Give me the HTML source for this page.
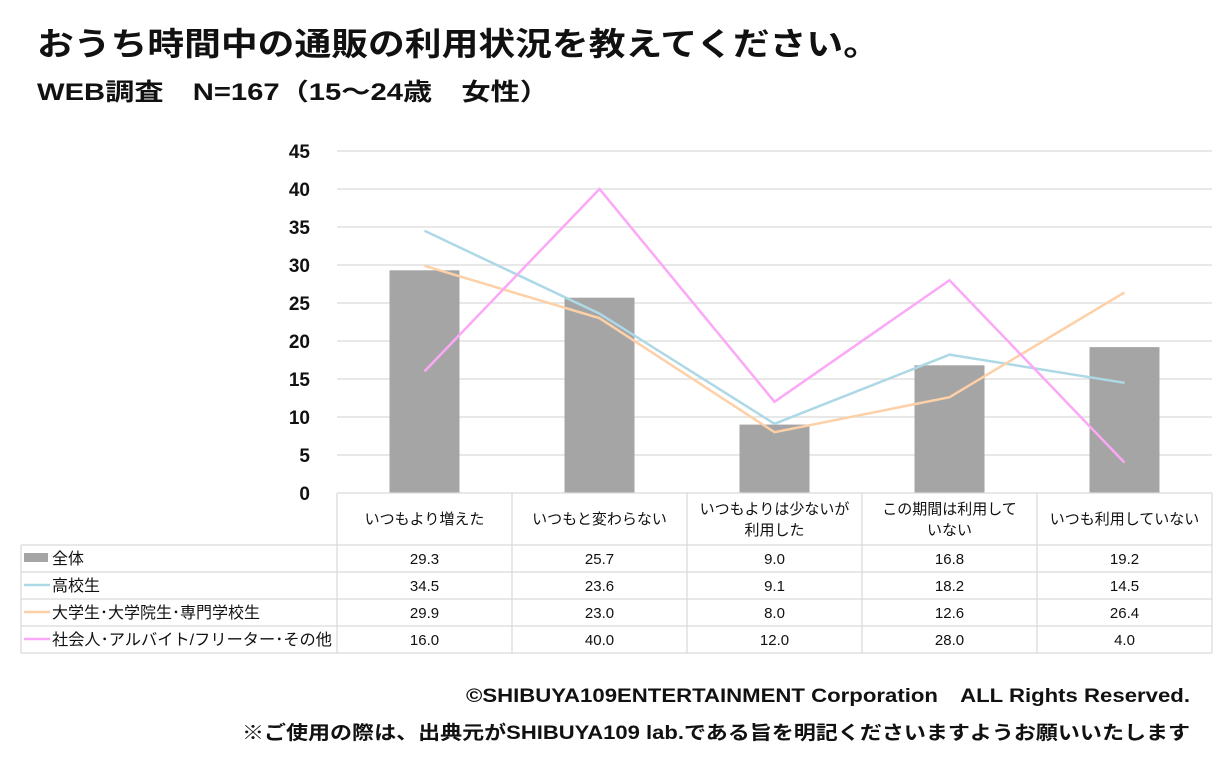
<!DOCTYPE html>
<html><head><meta charset="utf-8"><style>
body{margin:0;background:#fff;}
svg{display:block;font-family:"Liberation Sans","Noto Sans CJK JP",sans-serif;}
</style></head><body>
<svg width="1229" height="778" viewBox="0 0 1229 778">
<text x="37" y="55" font-size="32" font-weight="bold" fill="#111" textLength="843" lengthAdjust="spacingAndGlyphs">おうち時間中の通販の利用状況を教えてください。</text>
<text x="37" y="100" font-size="24" font-weight="bold" fill="#111" textLength="512" lengthAdjust="spacingAndGlyphs">WEB調査　N=167（15～24歳　女性）</text>
<g stroke="#e0e0e0" stroke-width="1.5">
<line x1="337" y1="151" x2="1212" y2="151"/><line x1="337" y1="189" x2="1212" y2="189"/>
<line x1="337" y1="227" x2="1212" y2="227"/><line x1="337" y1="265" x2="1212" y2="265"/>
<line x1="337" y1="303" x2="1212" y2="303"/><line x1="337" y1="341" x2="1212" y2="341"/>
<line x1="337" y1="379" x2="1212" y2="379"/><line x1="337" y1="417" x2="1212" y2="417"/>
<line x1="337" y1="455" x2="1212" y2="455"/>
</g>
<g font-size="19" font-weight="bold" fill="#111" text-anchor="end">
<text x="310" y="158">45</text><text x="310" y="196">40</text><text x="310" y="234">35</text>
<text x="310" y="272">30</text><text x="310" y="310">25</text><text x="310" y="348">20</text>
<text x="310" y="386">15</text><text x="310" y="424">10</text><text x="310" y="462">5</text>
<text x="310" y="500">0</text>
</g>
<g fill="#a5a5a5">
<rect x="389.5" y="270.3" width="70" height="222.7"/>
<rect x="564.5" y="297.7" width="70" height="195.3"/>
<rect x="739.5" y="424.6" width="70" height="68.4"/>
<rect x="914.5" y="365.3" width="70" height="127.7"/>
<rect x="1089.5" y="347.1" width="70" height="145.9"/>
</g>
<g fill="none" stroke-width="2.5">
<polyline stroke="#add8e6" points="424.5,230.8 599.5,313.6 774.5,423.8 949.5,354.7 1124.5,382.8"/>
<polyline stroke="#fdd0a8" points="424.5,265.8 599.5,318.2 774.5,432.2 949.5,397.2 1124.5,292.4"/>
<polyline stroke="#fba8f7" points="424.5,371.4 599.5,189 774.5,401.8 949.5,280.2 1124.5,462.6"/>
</g>
<g stroke="#d9d9d9" stroke-width="1.2" fill="none">
<line x1="337" y1="493" x2="1212" y2="493"/>
<line x1="21" y1="545" x2="1212" y2="545"/>
<line x1="21" y1="572" x2="1212" y2="572"/>
<line x1="21" y1="599" x2="1212" y2="599"/>
<line x1="21" y1="626" x2="1212" y2="626"/>
<line x1="21" y1="653" x2="1212" y2="653"/>
<line x1="21" y1="545" x2="21" y2="653"/>
<line x1="337" y1="493" x2="337" y2="653"/><line x1="512" y1="493" x2="512" y2="653"/>
<line x1="687" y1="493" x2="687" y2="653"/><line x1="862" y1="493" x2="862" y2="653"/>
<line x1="1037" y1="493" x2="1037" y2="653"/><line x1="1212" y1="493" x2="1212" y2="653"/>
</g>
<g font-size="15" fill="#111" text-anchor="middle">
<text x="424.5" y="524">いつもより増えた</text>
<text x="599.5" y="524">いつもと変わらない</text>
<text x="774.5" y="514">いつもよりは少ないが</text>
<text x="774.5" y="535">利用した</text>
<text x="949.5" y="514">この期間は利用して</text>
<text x="949.5" y="535">いない</text>
<text x="1124.5" y="524">いつも利用していない</text>
</g>
<g font-size="15" fill="#111" text-anchor="middle">
<text x="424.5" y="564">29.3</text><text x="599.5" y="564">25.7</text><text x="774.5" y="564">9.0</text><text x="949.5" y="564">16.8</text><text x="1124.5" y="564">19.2</text>
<text x="424.5" y="591">34.5</text><text x="599.5" y="591">23.6</text><text x="774.5" y="591">9.1</text><text x="949.5" y="591">18.2</text><text x="1124.5" y="591">14.5</text>
<text x="424.5" y="618">29.9</text><text x="599.5" y="618">23.0</text><text x="774.5" y="618">8.0</text><text x="949.5" y="618">12.6</text><text x="1124.5" y="618">26.4</text>
<text x="424.5" y="645">16.0</text><text x="599.5" y="645">40.0</text><text x="774.5" y="645">12.0</text><text x="949.5" y="645">28.0</text><text x="1124.5" y="645">4.0</text>
</g>
<rect x="24" y="553" width="24" height="9" fill="#a5a5a5"/>
<line x1="24" y1="585" x2="50" y2="585" stroke="#add8e6" stroke-width="2.5"/>
<line x1="24" y1="612" x2="50" y2="612" stroke="#fdd0a8" stroke-width="2.5"/>
<line x1="24" y1="639" x2="50" y2="639" stroke="#fba8f7" stroke-width="2.5"/>
<g font-size="16" fill="#111">
<text x="52" y="564">全体</text>
<text x="52" y="591">高校生</text>
<text x="52" y="618">大学生･大学院生･専門学校生</text>
<text x="52" y="645" textLength="280" lengthAdjust="spacingAndGlyphs">社会人･アルバイト/フリーター･その他</text>
</g>
<text x="1190" y="702" font-size="19" font-weight="bold" fill="#111" text-anchor="end" textLength="724" lengthAdjust="spacingAndGlyphs">©SHIBUYA109ENTERTAINMENT Corporation　ALL Rights Reserved.</text>
<text x="1190" y="739" font-size="19" font-weight="bold" fill="#111" text-anchor="end" textLength="948" lengthAdjust="spacingAndGlyphs">※ご使用の際は、出典元がSHIBUYA109 lab.である旨を明記くださいますようお願いいたします</text>
</svg>
</body></html>
